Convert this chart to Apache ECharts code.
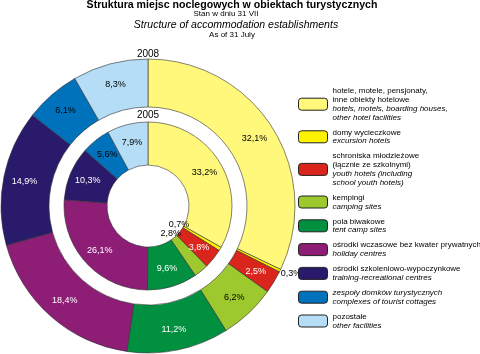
<!DOCTYPE html>
<html><head><meta charset="utf-8">
<script src="https://cdn.jsdelivr.net/npm/echarts@6/dist/echarts.min.js"></script>
<style>html,body{margin:0;padding:0;background:#fff}#c{width:480px;height:354px}</style>
</head><body><div id="c"></div>
<script>
const categories = ['hotels','excursion','youth','camping','tent','holiday','training','cottages','other'];
const plLabels = [
  ['hotele, motele, pensjonaty,','inne obiekty hotelowe'],
  ['domy wycieczkowe'],
  ['schroniska młodzieżowe','(łącznie ze szkolnymi)'],
  ['kempingi'],
  ['pola biwakowe'],
  ['ośrodki wczasowe bez kwater prywatnych'],
  ['ośrodki szkoleniowo-wypoczynkowe'],
  [],
  ['pozostałe']
];
const enLabels = [
  ['hotels, motels, boarding houses,','other hotel facilities'],
  ['excursion hotels'],
  ['youth hotels (including','school youth hotels)'],
  ['camping sites'],
  ['tent camp sites'],
  ['holiday centres'],
  ['training-recreational centres'],
  ['zespoły domków turystycznych','complexes of tourist cottages'],
  ['other facilities']
];
const values2008 = [32.1, 0.3, 2.5, 6.2, 11.2, 18.4, 14.9, 6.1, 8.3];
const values2005 = [33.2, 0.7, 3.8, 2.8, 9.6, 26.1, 10.3, 5.6, 7.9];
const ringLabels = ['2008', '2005'];
const titleLines = ['Struktura miejsc noclegowych w obiektach turystycznych','Stan w dniu 31 VII','Structure of accommodation establishments','As of 31 July'];

const colors = ['#FFF87A','#FFF200','#DA251D','#9DC92E','#00903F','#8D1D75','#2A1A6B','#0072BC','#B5DDF5'];
const labelColors = ['#000','#000','#fff','#000','#fff','#fff','#fff','#000','#000'];
const fmt = v => v.toFixed(1).replace('.', ',') + '%';
const FONT = 'Liberation Sans, Arial, sans-serif';

function ringData(vals, opts) {
  return categories.map((c, i) => {
    const d = {
      name: c, value: vals[i],
      itemStyle: {color: colors[i]},
      label: {color: labelColors[i]}
    };
    if (opts && opts[i]) Object.assign(d, opts[i]);
    return d;
  });
}

const outerOpts = {1: {label: {show: true, position: 'outside', color: '#000'}, labelLine: {show: false, length: 3, length2: 0}}};
const innerOpts = {1: {label: {show: false}}, 3: {label: {show: false}}};
const helperData = categories.map((c, i) => ({
  name: c, value: values2005[i],
  itemStyle: {color: 'rgba(0,0,0,0)', borderWidth: 0},
  label: {show: (i === 1 || i === 3), color: '#000'}
}));

const chart = echarts.init(document.getElementById('c'), null, {renderer: 'canvas'});
chart.setOption({
  animation: false,
  backgroundColor: '#fff',
  color: colors,
  legend: {
    orient: 'vertical', left: 298, top: 87, padding: 0,
    itemWidth: 29, itemHeight: 12, itemGap: 7,
    selectedMode: false,
    data: categories,
    itemStyle: {borderColor: '#222', borderWidth: 1},
    formatter: function (name) {
      const i = categories.indexOf(name);
      const lines = plLabels[i].map(t => '{p|' + t + '}').concat(enLabels[i].map(t => '{e|' + t + '}'));
      return lines.join('\n');
    },
    textStyle: {
      rich: {
        p: {fontSize: 8, fontFamily: FONT, color: '#000', lineHeight: 8.8},
        e: {fontSize: 8, fontFamily: FONT, fontStyle: 'italic', color: '#000', lineHeight: 8.8}
      }
    }
  },
  graphic: [
    {type: 'text', x: 232, y: 5, style: {text: titleLines[0], textAlign: 'center', textVerticalAlign: 'middle', font: 'bold 10.6px ' + FONT, fill: '#000'}},
    {type: 'text', x: 226, y: 14, style: {text: titleLines[1], textAlign: 'center', textVerticalAlign: 'middle', font: '8px ' + FONT, fill: '#000'}},
    {type: 'text', x: 236, y: 25, style: {text: titleLines[2], textAlign: 'center', textVerticalAlign: 'middle', font: 'italic 10.5px ' + FONT, fill: '#000'}},
    {type: 'text', x: 232, y: 35, style: {text: titleLines[3], textAlign: 'center', textVerticalAlign: 'middle', font: '8px ' + FONT, fill: '#000'}},
    {type: 'text', x: 148, y: 54, style: {text: ringLabels[0], textAlign: 'center', textVerticalAlign: 'middle', font: '10px ' + FONT, fill: '#000'}},
    {type: 'text', x: 148, y: 115, style: {text: ringLabels[1], textAlign: 'center', textVerticalAlign: 'middle', font: '10px ' + FONT, fill: '#000'}}
  ],
  series: [
    {
      type: 'pie', name: ringLabels[0], center: [148, 206], radius: [99, 147],
      startAngle: 90, clockwise: true, avoidLabelOverlap: false, silent: true,
      itemStyle: {borderColor: '#333', borderWidth: 0.6},
      label: {show: true, position: 'inside', fontSize: 9, fontFamily: FONT, formatter: p => fmt(p.value)},
      labelLine: {show: false},
      labelLayout: function (p) {
        if (p.dataIndex === 1) return {dx: -7, dy: 2};
        return {};
      },
      data: ringData(values2008, outerOpts)
    },
    {
      type: 'pie', name: ringLabels[1], center: [148, 206], radius: [41, 84],
      startAngle: 90, clockwise: true, avoidLabelOverlap: false, silent: true,
      itemStyle: {borderColor: '#333', borderWidth: 0.6},
      label: {show: true, position: 'inside', fontSize: 9, fontFamily: FONT, formatter: p => fmt(p.value)},
      labelLine: {show: false},
      data: ringData(values2005, innerOpts)
    },
    {
      type: 'pie', name: 'helper', center: [148, 206], radius: [25, 41],
      startAngle: 90, clockwise: true, avoidLabelOverlap: false, silent: true,
      label: {position: 'inside', fontSize: 9, fontFamily: FONT, formatter: p => fmt(p.value)},
      labelLine: {show: false},
      emphasis: {disabled: true},
      data: helperData
    }
  ]
});
</script>
</body></html>
